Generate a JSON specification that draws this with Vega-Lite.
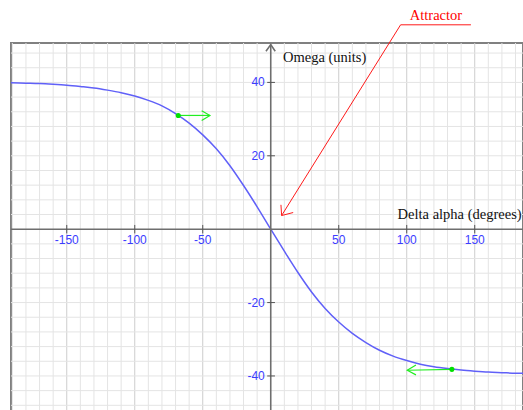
{
  "$schema": "https://vega.github.io/schema/vega-lite/v6.json",
  "autosize": "none",
  "padding": {"left": 11, "top": 43, "right": 0, "bottom": 0},
  "width": 512,
  "height": 368,
  "background": "white",
  "config": {"view": {"stroke": "#808080", "strokeWidth": 2}},
  "datasets": {
    "curve": [
      {"x": -191, "y": 39.9}, {"x": -180, "y": 39.8}, {"x": -170, "y": 39.7}, {"x": -160, "y": 39.5},
      {"x": -150, "y": 39.25}, {"x": -140, "y": 38.9}, {"x": -130, "y": 38.5}, {"x": -120, "y": 37.9},
      {"x": -110, "y": 37.2}, {"x": -100, "y": 36.3}, {"x": -90, "y": 35.1}, {"x": -80, "y": 33.6},
      {"x": -70, "y": 31.5}, {"x": -60, "y": 28.9}, {"x": -50, "y": 25.7}, {"x": -40, "y": 21.9},
      {"x": -30, "y": 17.3}, {"x": -20, "y": 11.9}, {"x": -10, "y": 6.1}, {"x": 0, "y": 0},
      {"x": 10, "y": -6.0}, {"x": 20, "y": -11.8}, {"x": 30, "y": -17.1}, {"x": 40, "y": -21.6},
      {"x": 50, "y": -25.3}, {"x": 60, "y": -28.4}, {"x": 70, "y": -30.9}, {"x": 80, "y": -33.0},
      {"x": 90, "y": -34.6}, {"x": 100, "y": -35.8}, {"x": 110, "y": -36.8}, {"x": 120, "y": -37.5},
      {"x": 130, "y": -38.0}, {"x": 140, "y": -38.4}, {"x": 150, "y": -38.7}, {"x": 160, "y": -38.95},
      {"x": 170, "y": -39.1}, {"x": 180, "y": -39.25}, {"x": 186, "y": -39.3}
    ],
    "gridx": [
      {"v": -190}, {"v": -180}, {"v": -170}, {"v": -160}, {"v": -150}, {"v": -140}, {"v": -130}, {"v": -120},
      {"v": -110}, {"v": -100}, {"v": -90}, {"v": -80}, {"v": -70}, {"v": -60}, {"v": -50}, {"v": -40},
      {"v": -30}, {"v": -20}, {"v": -10}, {"v": 10}, {"v": 20}, {"v": 30}, {"v": 40}, {"v": 50},
      {"v": 60}, {"v": 70}, {"v": 80}, {"v": 90}, {"v": 100}, {"v": 110}, {"v": 120}, {"v": 130},
      {"v": 140}, {"v": 150}, {"v": 160}, {"v": 170}, {"v": 180}
    ],
    "gridy": [
      {"v": -48}, {"v": -44}, {"v": -40}, {"v": -36}, {"v": -32}, {"v": -28}, {"v": -24}, {"v": -20},
      {"v": -16}, {"v": -12}, {"v": -8}, {"v": -4}, {"v": 4}, {"v": 8}, {"v": 12}, {"v": 16},
      {"v": 20}, {"v": 24}, {"v": 28}, {"v": 32}, {"v": 36}, {"v": 40}, {"v": 44}, {"v": 48}
    ],
    "segs": [
      {"g": "red", "s": "r1", "o": 1, "x": 95.5, "y": 55.7},
      {"g": "red", "s": "r1", "o": 2, "x": 8.0, "y": 3.72},
      {"g": "red", "s": "r2", "o": 1, "x": 16.5, "y": 4.54},
      {"g": "red", "s": "r2", "o": 2, "x": 8.0, "y": 3.72},
      {"g": "red", "s": "r2", "o": 3, "x": 7.5, "y": 6.64},
      {"g": "red", "s": "r3", "o": 1, "x": 95.5, "y": 55.7},
      {"g": "red", "s": "r3", "o": 2, "x": 147.2, "y": 55.7},
      {"g": "green", "s": "g1", "o": 1, "x": -68.0, "y": 31.0},
      {"g": "green", "s": "g1", "o": 2, "x": -44.7, "y": 31.0},
      {"g": "green", "s": "g2", "o": 1, "x": -50.8, "y": 32.3},
      {"g": "green", "s": "g2", "o": 2, "x": -44.7, "y": 31.0},
      {"g": "green", "s": "g2", "o": 3, "x": -50.8, "y": 29.6},
      {"g": "green", "s": "g3", "o": 1, "x": 133.2, "y": -38.2},
      {"g": "green", "s": "g3", "o": 2, "x": 100.4, "y": -38.45},
      {"g": "green", "s": "g4", "o": 1, "x": 106.8, "y": -37.0},
      {"g": "green", "s": "g4", "o": 2, "x": 100.4, "y": -38.45},
      {"g": "green", "s": "g4", "o": 3, "x": 106.8, "y": -39.7},
      {"g": "axis", "s": "a1", "o": 1, "x": 0, "y": -49.55},
      {"g": "axis", "s": "a1", "o": 2, "x": 0, "y": 50.3},
      {"g": "axis", "s": "a2", "o": 1, "x": -191, "y": 0},
      {"g": "axis", "s": "a2", "o": 2, "x": 185.5, "y": 0},
      {"g": "axis", "s": "a3", "o": 1, "x": -3.5, "y": 48.5},
      {"g": "axis", "s": "a3", "o": 2, "x": 0, "y": 50.3},
      {"g": "axis", "s": "a3", "o": 3, "x": 3.3, "y": 48.5}
    ],
    "xlabels": [
      {"v": -150, "t": "-150"}, {"v": -100, "t": "-100"}, {"v": -50, "t": "-50"},
      {"v": 50, "t": "50"}, {"v": 100, "t": "100"}, {"v": 150, "t": "150"}
    ],
    "ylabels": [
      {"v": -40, "t": "-40"}, {"v": -20, "t": "-20"}, {"v": 20, "t": "20"}, {"v": 40, "t": "40"}
    ],
    "texts": [
      {"x": 9.0, "y": 45.5, "t": "Omega (units)"},
      {"x": 93.3, "y": 2.74, "t": "Delta alpha (degrees)"}
    ],
    "points": [
      {"x": -68.0, "y": 31.0}, {"x": 133.2, "y": -38.2}
    ]
  },
  "layer": [
    {
      "data": {"name": "gridx"},
      "mark": {"type": "rule", "strokeWidth": 1},
      "encoding": {
        "x": {
          "field": "v", "type": "quantitative",
          "scale": {"domain": [-191, 185.5], "nice": false, "zero": false},
          "axis": null
        },
        "color": {
          "condition": {"test": "datum.v % 50 === 0", "value": "#cdcdcd"},
          "value": "#e4e4e4"
        }
      }
    },
    {
      "data": {"name": "gridy"},
      "mark": {"type": "rule", "strokeWidth": 1, "color": "#e4e4e4"},
      "encoding": {
        "y": {
          "field": "v", "type": "quantitative",
          "scale": {"domain": [-49.55, 50.74], "nice": false, "zero": false},
          "axis": null
        }
      }
    },
    {
      "data": {"name": "curve"},
      "mark": {"type": "line", "color": "#6060f8", "strokeWidth": 1.5, "interpolate": "monotone"},
      "encoding": {
        "x": {"field": "x", "type": "quantitative"},
        "y": {"field": "y", "type": "quantitative"}
      }
    },
    {
      "data": {"name": "segs"},
      "transform": [{"filter": "datum.g === 'axis'"}],
      "mark": {"type": "line", "color": "#6e6e6e", "strokeWidth": 1.6},
      "encoding": {
        "x": {"field": "x", "type": "quantitative"},
        "y": {"field": "y", "type": "quantitative"},
        "detail": {"field": "s"},
        "order": {"field": "o"}
      }
    },
    {
      "data": {"name": "xlabels"},
      "mark": {"type": "rule", "color": "#555555", "strokeWidth": 1},
      "encoding": {
        "x": {"field": "v", "type": "quantitative"},
        "y": {"datum": 1.15},
        "y2": {"datum": -1.15}
      }
    },
    {
      "data": {"name": "ylabels"},
      "mark": {"type": "rule", "color": "#555555", "strokeWidth": 1},
      "encoding": {
        "y": {"field": "v", "type": "quantitative"},
        "x": {"datum": -2.6},
        "x2": {"datum": 3.1}
      }
    },
    {
      "data": {"name": "xlabels"},
      "mark": {"type": "text", "font": "Liberation Sans", "fontSize": 12, "color": "#3c3cff", "align": "center", "baseline": "middle", "dy": 11},
      "encoding": {
        "x": {"field": "v", "type": "quantitative"},
        "y": {"datum": 0},
        "text": {"field": "t"}
      }
    },
    {
      "data": {"name": "ylabels"},
      "mark": {"type": "text", "font": "Liberation Sans", "fontSize": 12, "color": "#3c3cff", "align": "right", "baseline": "middle", "dx": -6},
      "encoding": {
        "y": {"field": "v", "type": "quantitative"},
        "x": {"datum": 0},
        "text": {"field": "t"}
      }
    },
    {
      "data": {"name": "texts"},
      "mark": {"type": "text", "font": "Liberation Serif", "fontSize": 14.5, "color": "#111111", "align": "left", "baseline": "alphabetic"},
      "encoding": {
        "x": {"field": "x", "type": "quantitative"},
        "y": {"field": "y", "type": "quantitative"},
        "text": {"field": "t"}
      }
    },
    {
      "data": {"values": [{"x": 121.5, "y": 57.1, "t": "Attractor"}]},
      "mark": {"type": "text", "font": "Liberation Serif", "fontSize": 14.5, "color": "#ff0000", "align": "center", "baseline": "alphabetic"},
      "encoding": {
        "x": {"field": "x", "type": "quantitative"},
        "y": {"field": "y", "type": "quantitative"},
        "text": {"field": "t"}
      }
    },
    {
      "data": {"name": "segs"},
      "transform": [{"filter": "datum.g === 'red'"}],
      "mark": {"type": "line", "color": "#ff1a1a", "strokeWidth": 1},
      "encoding": {
        "x": {"field": "x", "type": "quantitative"},
        "y": {"field": "y", "type": "quantitative"},
        "detail": {"field": "s"},
        "order": {"field": "o"}
      }
    },
    {
      "data": {"name": "segs"},
      "transform": [{"filter": "datum.g === 'green'"}],
      "mark": {"type": "line", "color": "#22ee22", "strokeWidth": 1.2},
      "encoding": {
        "x": {"field": "x", "type": "quantitative"},
        "y": {"field": "y", "type": "quantitative"},
        "detail": {"field": "s"},
        "order": {"field": "o"}
      }
    },
    {
      "data": {"name": "points"},
      "mark": {"type": "point", "filled": true, "color": "#00e000", "size": 26, "opacity": 1},
      "encoding": {
        "x": {"field": "x", "type": "quantitative"},
        "y": {"field": "y", "type": "quantitative"}
      }
    }
  ]
}
